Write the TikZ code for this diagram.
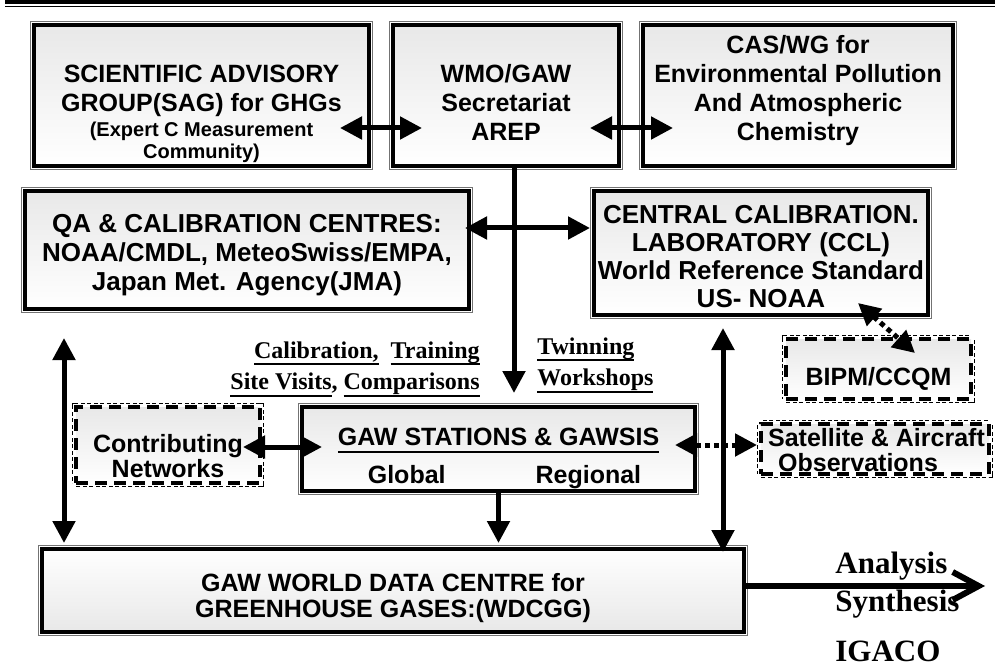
\documentclass[tikz,border=0pt]{standalone}
\usepackage{fontspec}
\setmainfont{Liberation Serif}
\setsansfont{Liberation Sans}
\usepackage{tikz}
\usetikzlibrary{arrows.meta, positioning}
\tikzset{every picture/.append style={thick}}

\newsavebox{\ubox}
\newcommand{\uword}[1]{\sbox{\ubox}{#1}\rlap{\rule[-7pt]{\wd\ubox}{2pt}}\usebox{\ubox}}
\newcommand{\topgap}[1]{\rule{0pt}{#1pt}}
\newcommand{\botgap}[1]{\rule[-#1pt]{0pt}{#1pt}}

\tikzset{
    solidbox/.style={draw=black, line width=3.5pt, top color=gray!18, bottom color=white,
        preaction={draw=black!55, line width=8pt},
        preaction={draw=white, line width=6pt},
        inner sep=1pt, outer sep=0pt, align=center,
        font=\sffamily\bfseries\fontsize{25}{29}\selectfont},
    dashbox/.style={draw=black, line width=3.5pt, dash pattern=on 12pt off 7pt,
        top color=gray!18, bottom color=white,
        preaction={draw=black, line width=8pt, dash pattern=on 4pt off 2.5pt},
        preaction={draw=white, line width=6pt, solid},
        inner sep=1pt, outer sep=0pt, align=center,
        font=\sffamily\bfseries\fontsize{25}{29}\selectfont},
    tag/.style={inner sep=0pt, font=\rmfamily\bfseries\fontsize{24}{31.5}\selectfont},
    oneway/.style={line width=5pt, -{Triangle[length=22pt,width=22pt]}},
    twoway/.style={line width=5pt, {Triangle[length=22pt,width=22pt]}-{Triangle[length=22pt,width=22pt]}},
    dotway/.style={twoway, dash pattern=on 5pt off 4pt},
    outway/.style={line width=6pt, -{Straight Barb[length=26pt,width=28pt]}}
}

\begin{document}
\begin{tikzpicture}[x=1pt, y=-1pt]
    \useasboundingbox (0,0) rectangle (995,668);

    % Header rules
    \draw[line width=4pt] (5,2) -- (995,2);
    \draw[line width=1.5pt] (5,6.5) -- (995,6.5);

    % Top row
    \node[solidbox, minimum width=335pt, minimum height=141pt] (sag) at (201.5,95.5)
        {\topgap{55}SCIENTIFIC ADVISORY\\ GROUP(SAG) for GHGs\\[-4pt]
         {\fontsize{20}{23}\selectfont (Expert C Measurement}\\[-7pt]
         {\fontsize{20}{23}\selectfont Community)}};
    \node[solidbox, minimum width=226pt, minimum height=141pt] (wmo) at (506,95.5)
        {\topgap{33}WMO/GAW\\ Secretariat\\ AREP};
    \node[solidbox, minimum width=310pt, minimum height=141pt] (cas) at (798,95.5)
        {CAS/WG for\\ Environmental Pollution\\ And Atmospheric\\ Chemistry\botgap{16}};

    % Calibration row
    \node[solidbox, minimum width=444pt, minimum height=118pt,
          font=\sffamily\bfseries\fontsize{26}{29}\selectfont] (qa) at (247,250)
        {\topgap{29}QA \& CALIBRATION CENTRES:\\ NOAA/CMDL, MeteoSwiss/EMPA,\\ Japan Met. Agency(JMA)};
    \node[solidbox, minimum width=334pt, minimum height=124pt,
          font=\sffamily\bfseries\fontsize{26}{28}\selectfont] (ccl) at (761,253)
        {\topgap{25}CENTRAL CALIBRATION.\\ LABORATORY (CCL)\\ World Reference Standard\\ US- NOAA};
    \node[dashbox, minimum width=185pt, minimum height=60pt] (bipm) at (878.5,369)
        {\topgap{37}BIPM/CCQM};

    % Stations row
    \node[solidbox, minimum width=393pt, minimum height=84pt] (gaw) at (498.5,449)
        {\topgap{37}\uword{GAW STATIONS \& GAWSIS}\\[9pt]
         \hspace*{12pt}Global\hspace{90pt}Regional};
    \node[dashbox, minimum width=184pt, minimum height=76pt] (con) at (168,445)
        {\topgap{41}Contributing\\[-4pt] Networks};
    \node[dashbox, minimum width=228pt, minimum height=50pt, align=left] (sat) at (875,449)
        {\topgap{21}\hspace*{3pt}Satellite \& Aircraft\\[-4pt] \hspace*{13pt}Observations};

    % Data centre
    \node[solidbox, minimum width=702pt, minimum height=83pt,
          top color=white, bottom color=gray!18] (wdc) at (393,590.5)
        {\topgap{34}GAW WORLD DATA CENTRE for\\[-3pt] GREENHOUSE GASES:(WDCGG)};

    % Activity labels
    \node[tag, anchor=north east, align=right] (calib) at (480,341)
        {\uword{Calibration,}\ \ \uword{Training}\\ \uword{Site Visits}, \uword{Comparisons}};
    \node[tag, anchor=north west, align=left] (twin) at (537,337)
        {\uword{Twinning}\\ \uword{Workshops}};
    \node[inner sep=0pt, anchor=north west, align=left,
          font=\rmfamily\bfseries\fontsize{31}{38}\selectfont] (igaco) at (835,552)
        {Analysis\\ Synthesis\\[12pt] IGACO};
    \coordinate (igacoend) at (985,586);

    % Connectors
    \draw[twoway] ([shift={(-29,32.5)}]sag.east) -- ([shift={(29,32.5)}]wmo.west);
    \draw[twoway] ([shift={(-29,32.5)}]wmo.east) -- ([shift={(30,32.5)}]cas.west);
    \draw[oneway] ([xshift=8pt]wmo.south) -- ([shift={(15.5,-14)}]gaw.north);
    \draw[twoway] ([shift={(-4,-22)}]qa.east) -- ([shift={(-4,-25)}]ccl.west);
    \draw[dotway] ([shift={(-70,-12)}]ccl.south east) -- ([shift={(36.5,14)}]bipm.north);
    \draw[twoway] ([shift={(39,29)}]qa.south west) -- ([shift={(22,-6)}]wdc.north west);
    \draw[twoway] ([shift={(-17,2)}]con.east) -- ([shift={(20,-2)}]gaw.west);
    \draw[dotway] ([shift={(-20,-4)}]gaw.east) -- ([shift={(-4,-4)}]sat.west);
    \draw[twoway] ([shift={(-38,13)}]ccl.south) -- ([shift={(-21,3)}]wdc.north east);
    \draw[oneway] (gaw.south) -- ([shift={(105.5,-6)}]wdc.north);
    \draw[outway] ([shift={(0,-4.5)}]wdc.east) -- (igacoend);
\end{tikzpicture}
\end{document}
